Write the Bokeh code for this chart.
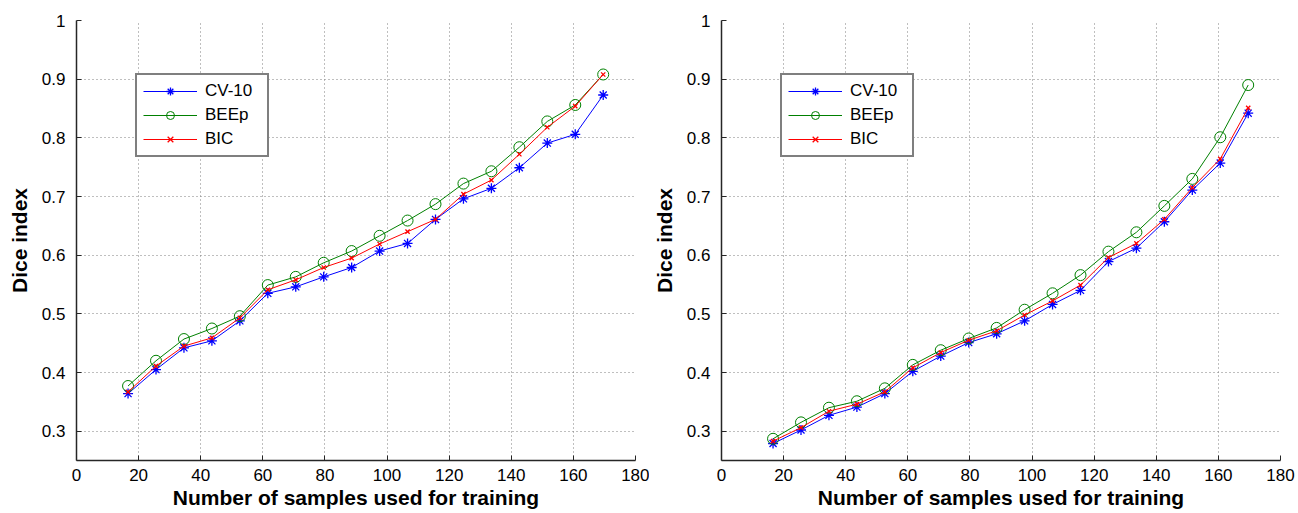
from bokeh.plotting import figure
from bokeh.layouts import row
from bokeh.models import FixedTicker, Legend, LegendItem
from bokeh.embed import file_html
from bokeh.resources import INLINE

samples = [16.6, 25.6, 34.6, 43.6, 52.6, 61.6, 70.6, 79.6, 88.6, 97.6,
           106.6, 115.6, 124.6, 133.6, 142.6, 151.6, 160.6, 169.6]

left_cv10 = [0.364, 0.405, 0.442, 0.454, 0.488, 0.535, 0.546, 0.563, 0.579, 0.607,
             0.620, 0.661, 0.696, 0.714, 0.749, 0.791, 0.806, 0.873]
left_beep = [0.377, 0.420, 0.457, 0.475, 0.496, 0.549, 0.563, 0.587, 0.607, 0.633,
             0.659, 0.687, 0.722, 0.743, 0.784, 0.828, 0.856, 0.908]
left_bic = [0.367, 0.411, 0.445, 0.459, 0.493, 0.541, 0.558, 0.579, 0.595, 0.619,
            0.640, 0.661, 0.704, 0.728, 0.772, 0.818, 0.854, 0.908]

right_cv10 = [0.279, 0.302, 0.327, 0.341, 0.364, 0.402, 0.428, 0.451, 0.466, 0.488,
              0.516, 0.540, 0.589, 0.612, 0.657, 0.711, 0.757, 0.842]
right_beep = [0.287, 0.315, 0.340, 0.351, 0.373, 0.413, 0.438, 0.458, 0.476, 0.507,
              0.535, 0.566, 0.606, 0.639, 0.684, 0.730, 0.801, 0.890]
right_bic = [0.283, 0.306, 0.334, 0.346, 0.367, 0.408, 0.434, 0.455, 0.471, 0.498,
             0.522, 0.549, 0.596, 0.620, 0.661, 0.715, 0.764, 0.851]

series_names = ["CV-10", "BEEp", "BIC"]
x_ticks = [0, 20, 40, 60, 80, 100, 120, 140, 160, 180]
y_ticks = [0.3, 0.4, 0.5, 0.6, 0.7, 0.8, 0.9, 1]
y_tick_labels = ["0.3", "0.4", "0.5", "0.6", "0.7", "0.8", "0.9", "1"]

x_title = "Number of samples used for training"
y_title = "Dice index"

FONT = "Liberation Sans"


def make_panel(cv, beep, bic, bl, br, w):
    p = figure(width=w, height=513, x_range=(0, 180), y_range=(0.25, 1),
               output_backend="svg", toolbar_location=None,
               min_border_left=bl, min_border_right=br,
               min_border_top=20, min_border_bottom=53)
    p.outline_line_color = None
    p.background_fill_color = "white"
    p.border_fill_color = "white"

    for ax in (p.xaxis[0], p.yaxis[0]):
        ax.axis_line_color = "#262626"
        ax.axis_line_width = 1.5
        ax.major_tick_line_color = "#262626"
        ax.major_tick_in = 5
        ax.major_tick_out = 0
        ax.minor_tick_line_color = None
        ax.major_label_text_font = FONT
        ax.major_label_text_font_size = "17px"
        ax.major_label_text_color = "black"
        ax.axis_label_text_font = FONT
        ax.axis_label_text_font_size = "21px"
        ax.axis_label_text_font_style = "bold"
        ax.axis_label_text_color = "black"

    p.xaxis.ticker = FixedTicker(ticks=x_ticks)
    p.yaxis.ticker = FixedTicker(ticks=y_ticks)
    p.yaxis.major_label_overrides = {t: l for t, l in zip(y_ticks, y_tick_labels)}
    p.xaxis.major_label_standoff = 8
    p.yaxis.major_label_standoff = 11
    p.xaxis.axis_label = x_title
    p.yaxis.axis_label = y_title
    p.xaxis.axis_label_standoff = 2
    p.yaxis.axis_label_standoff = 8

    for g in (p.xgrid[0], p.ygrid[0]):
        g.grid_line_color = "#7f7f7f"
        g.grid_line_dash = "1 3"
        g.grid_line_width = 1

    items = []
    specs = [(cv, "#0000ff", "asterisk", 10),
             (beep, "#008000", "circle", 11),
             (bic, "#ff0000", "x", 6)]
    for name, (vals, color, marker, size) in zip(series_names, specs):
        lr = p.line(samples, vals, line_color=color, line_width=1)
        if marker == "circle":
            sr = p.scatter(samples, vals, marker=marker, size=size,
                           line_color=color, fill_color=None, line_width=1)
        else:
            sr = p.scatter(samples, vals, marker=marker, size=size,
                           line_color=color, line_width=1.3)
        items.append(LegendItem(label=name, renderers=[lr, sr]))

    legend = Legend(items=items, location=(59, 303),
                    label_text_font=FONT, label_text_font_size="17px",
                    label_text_color="black",
                    glyph_width=54, glyph_height=20, label_height=20,
                    label_width=56, label_standoff=8, spacing=4,
                    padding=6, margin=0,
                    border_line_color="black", border_line_width=2,
                    background_fill_color="white", background_fill_alpha=1)
    p.add_layout(legend, "center")
    return p


p1 = make_panel(left_cv10, left_beep, left_bic, 76, 14, 649)
p2 = make_panel(right_cv10, right_beep, right_bic, 72, 18, 649)

layout = row(p1, p2)
open("out.html", "w").write(file_html(layout, INLINE))
